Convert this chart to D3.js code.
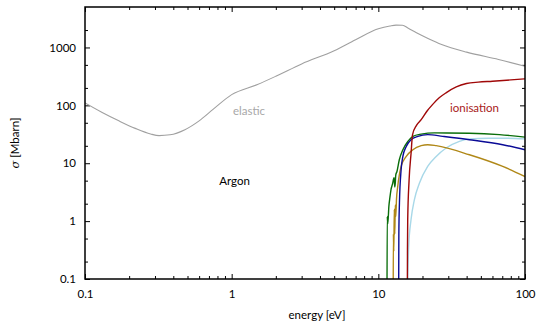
<!DOCTYPE html>
<html><head><meta charset="utf-8">
<script src="https://cdn.jsdelivr.net/npm/d3@7"></script>
<style>
body{margin:0;background:#fff;}
svg{display:block;font-family:Lato, "DejaVu Sans", sans-serif;}
</style></head>
<body><svg id="c" width="539" height="323"></svg>
<script>
// ---- data ----
const xMajorTicks = [0.1, 1, 10, 100];
const xTickLabels = ["0.1", "1", "10", "100"];
const yMajorTicks = [0.1, 1, 10, 100, 1000];
const yTickLabels = ["0.1", "1", "10", "100", "1000"];

const elasticE = [0.1, 0.13, 0.17, 0.22, 0.28, 0.32, 0.38, 0.48, 0.6, 0.75, 1.0, 1.5, 2.0, 3.0, 5.0, 7.0, 10, 12, 13.2, 14.6, 16, 18.2, 22, 27, 40, 66, 100];
const elasticS = [110, 76, 54, 40, 32, 30, 31, 38, 54, 86, 153, 229, 318, 520, 880, 1362, 2100, 2350, 2430, 2420, 2150, 1800, 1420, 1130, 830, 620, 474];

const totalE = [15.76, 15.8, 15.86, 16.2, 16.73, 17.1, 18.2, 19.6, 21.5, 23.4, 26, 29.1, 34, 39.9, 48, 60, 80, 100];
const totalS = [0.03, 0.32, 1.05, 5, 15.2, 31, 45, 56.6, 80, 103, 135, 166, 208, 238, 252, 261, 275, 287];

const greenE = [11.45, 11.5, 11.6, 11.8, 12.0, 12.2, 12.5, 12.8, 12.95, 13.05, 13.15, 13.4, 13.9, 14.7, 15.9, 17.2, 19.6, 24.1, 41.8, 66.9, 100];
const greenS = [0.03, 1.2, 0.9, 1.8, 2.6, 3.5, 4.4, 5.6, 3.9, 4.6, 6.3, 7.2, 11.5, 17.1, 23.8, 29.1, 31.8, 33.4, 33, 31.2, 28.2];

const blueE = [13.75, 13.8, 13.93, 14.3, 14.7, 15.5, 16.7, 18.6, 21.7, 27.5, 41.8, 70.5, 100];
const blueS = [0.03, 0.6, 2.07, 7.7, 13.1, 19.5, 25.5, 29.1, 31.2, 29.1, 25.5, 20.9, 17.1];

const goldE = [12.62, 12.66, 12.75, 12.85, 12.95, 13.05, 13.15, 13.3, 13.56, 14.3, 15.5, 17.2, 19.6, 21.7, 24.8, 41.8, 70.5, 100];
const goldS = [0.03, 0.6, 0.3, 1.6, 0.6, 1.9, 1.2, 2.4, 3.96, 8.8, 13.1, 17.1, 20.1, 20.9, 20.1, 14.0, 8.8, 5.9];

const lightE = [15.7, 16.1, 16.7, 17.6, 19.05, 21.7, 24.8, 29, 35.7, 41.8, 56.5, 75, 100];
const lightS = [0.03, 0.36, 1.05, 2.33, 4.5, 8.8, 13.1, 18.3, 23.8, 26.3, 27, 27, 26.3];

// ---- layout ----
const L = 85, R = 525, T = 7, B = 279;
const svg = d3.select("#c");
const x = d3.scaleLog().domain([0.1, 100]).range([L, R]);
const y = d3.scaleLog().domain([0.1, 5000]).range([B, T]);

function minors(lo, hi, mults) {
  const out = [];
  for (let d = Math.floor(Math.log10(lo)); d <= Math.ceil(Math.log10(hi)); d++) {
    for (const m of mults) { const v = m * Math.pow(10, d); if (v > lo * 1.0001 && v < hi * 0.9999 && m !== 1) out.push(v); }
  }
  return out;
}
const xMinor = minors(0.1, 100, [2,3,4,5,6,7,8,9]);
const yMinor = minors(0.1, 5000, [2,5]);

svg.append("defs").append("clipPath").attr("id", "clip")
  .append("rect").attr("x", L).attr("y", T).attr("width", R - L).attr("height", B - T);

const fs = "11.5px";
function styleAxis(g) {
  g.select(".domain").remove();
  g.selectAll(".tick line").attr("stroke", "#000").attr("stroke-width", 1);
  g.selectAll("text").attr("font-size", fs).attr("fill", "#000").attr("font-family", "Lato, 'DejaVu Sans', sans-serif");
}
// bottom
svg.append("g").attr("transform", `translate(0,${B})`)
  .call(d3.axisBottom(x).tickValues(xMajorTicks).tickFormat((d, i) => xTickLabels[i]).tickSize(-5).tickPadding(11)).call(styleAxis);
svg.append("g").attr("transform", `translate(0,${B})`)
  .call(d3.axisBottom(x).tickValues(xMinor).tickFormat("").tickSize(-3)).call(styleAxis);
// top
svg.append("g").attr("transform", `translate(0,${T})`)
  .call(d3.axisTop(x).tickValues(xMajorTicks).tickFormat("").tickSize(-5)).call(styleAxis);
svg.append("g").attr("transform", `translate(0,${T})`)
  .call(d3.axisTop(x).tickValues(xMinor).tickFormat("").tickSize(-3)).call(styleAxis);
// left
svg.append("g").attr("transform", `translate(${L},0)`)
  .call(d3.axisLeft(y).tickValues(yMajorTicks).tickFormat((d, i) => yTickLabels[i]).tickSize(-5).tickPadding(9)).call(styleAxis);
svg.append("g").attr("transform", `translate(${L},0)`)
  .call(d3.axisLeft(y).tickValues(yMinor).tickFormat("").tickSize(-3)).call(styleAxis);
// right
svg.append("g").attr("transform", `translate(${R},0)`)
  .call(d3.axisRight(y).tickValues(yMajorTicks).tickFormat("").tickSize(-5)).call(styleAxis);
svg.append("g").attr("transform", `translate(${R},0)`)
  .call(d3.axisRight(y).tickValues(yMinor).tickFormat("").tickSize(-3)).call(styleAxis);

// curves
const plot = svg.append("g").attr("clip-path", "url(#clip)");
function drawCurve(E, S, color, w, curve) {
  const pts = E.map((e, i) => [e, S[i]]);
  plot.append("path").datum(pts)
    .attr("fill", "none").attr("stroke", color).attr("stroke-width", w)
    .attr("stroke-linejoin", "round")
    .attr("d", d3.line().x(d => x(d[0])).y(d => y(d[1])).curve(curve));
}
drawCurve(elasticE, elasticS, "#a0a0a0", 1.1, d3.curveMonotoneX);
drawCurve(lightE, lightS, "#a8d8e8", 1.4, d3.curveMonotoneX);
drawCurve(goldE, goldS, "#b08818", 1.4, d3.curveMonotoneX);
drawCurve(greenE, greenS, "#0a6e0a", 1.4, d3.curveMonotoneX);
drawCurve(blueE, blueS, "#0a0a96", 1.4, d3.curveMonotoneX);
drawCurve(totalE, totalS, "#a00808", 1.4, d3.curveMonotoneX);

// frame
svg.append("rect").attr("x", L).attr("y", T).attr("width", R - L).attr("height", B - T)
  .attr("fill", "none").attr("stroke", "#000").attr("stroke-width", 1.5);

// labels
svg.append("text").attr("x", 317).attr("y", 319).attr("text-anchor", "middle")
  .attr("font-size", fs).text("energy [eV]");
svg.append("text").attr("transform", "translate(19,143) rotate(-90)").attr("text-anchor", "middle")
  .attr("font-size", fs).html('<tspan font-style="italic" font-family="DejaVu Serif">σ</tspan> [Mbarn]');
svg.append("text").attr("x", 249).attr("y", 115).attr("text-anchor", "middle")
  .attr("font-size", fs).attr("fill", "#a8a8a8").text("elastic");
svg.append("text").attr("x", 474.5).attr("y", 112).attr("text-anchor", "middle")
  .attr("font-size", fs).attr("fill", "#a82020").text("ionisation");
svg.append("text").attr("x", 234.5).attr("y", 185).attr("text-anchor", "middle")
  .attr("font-size", fs).attr("fill", "#000").text("Argon");
</script></body></html>
